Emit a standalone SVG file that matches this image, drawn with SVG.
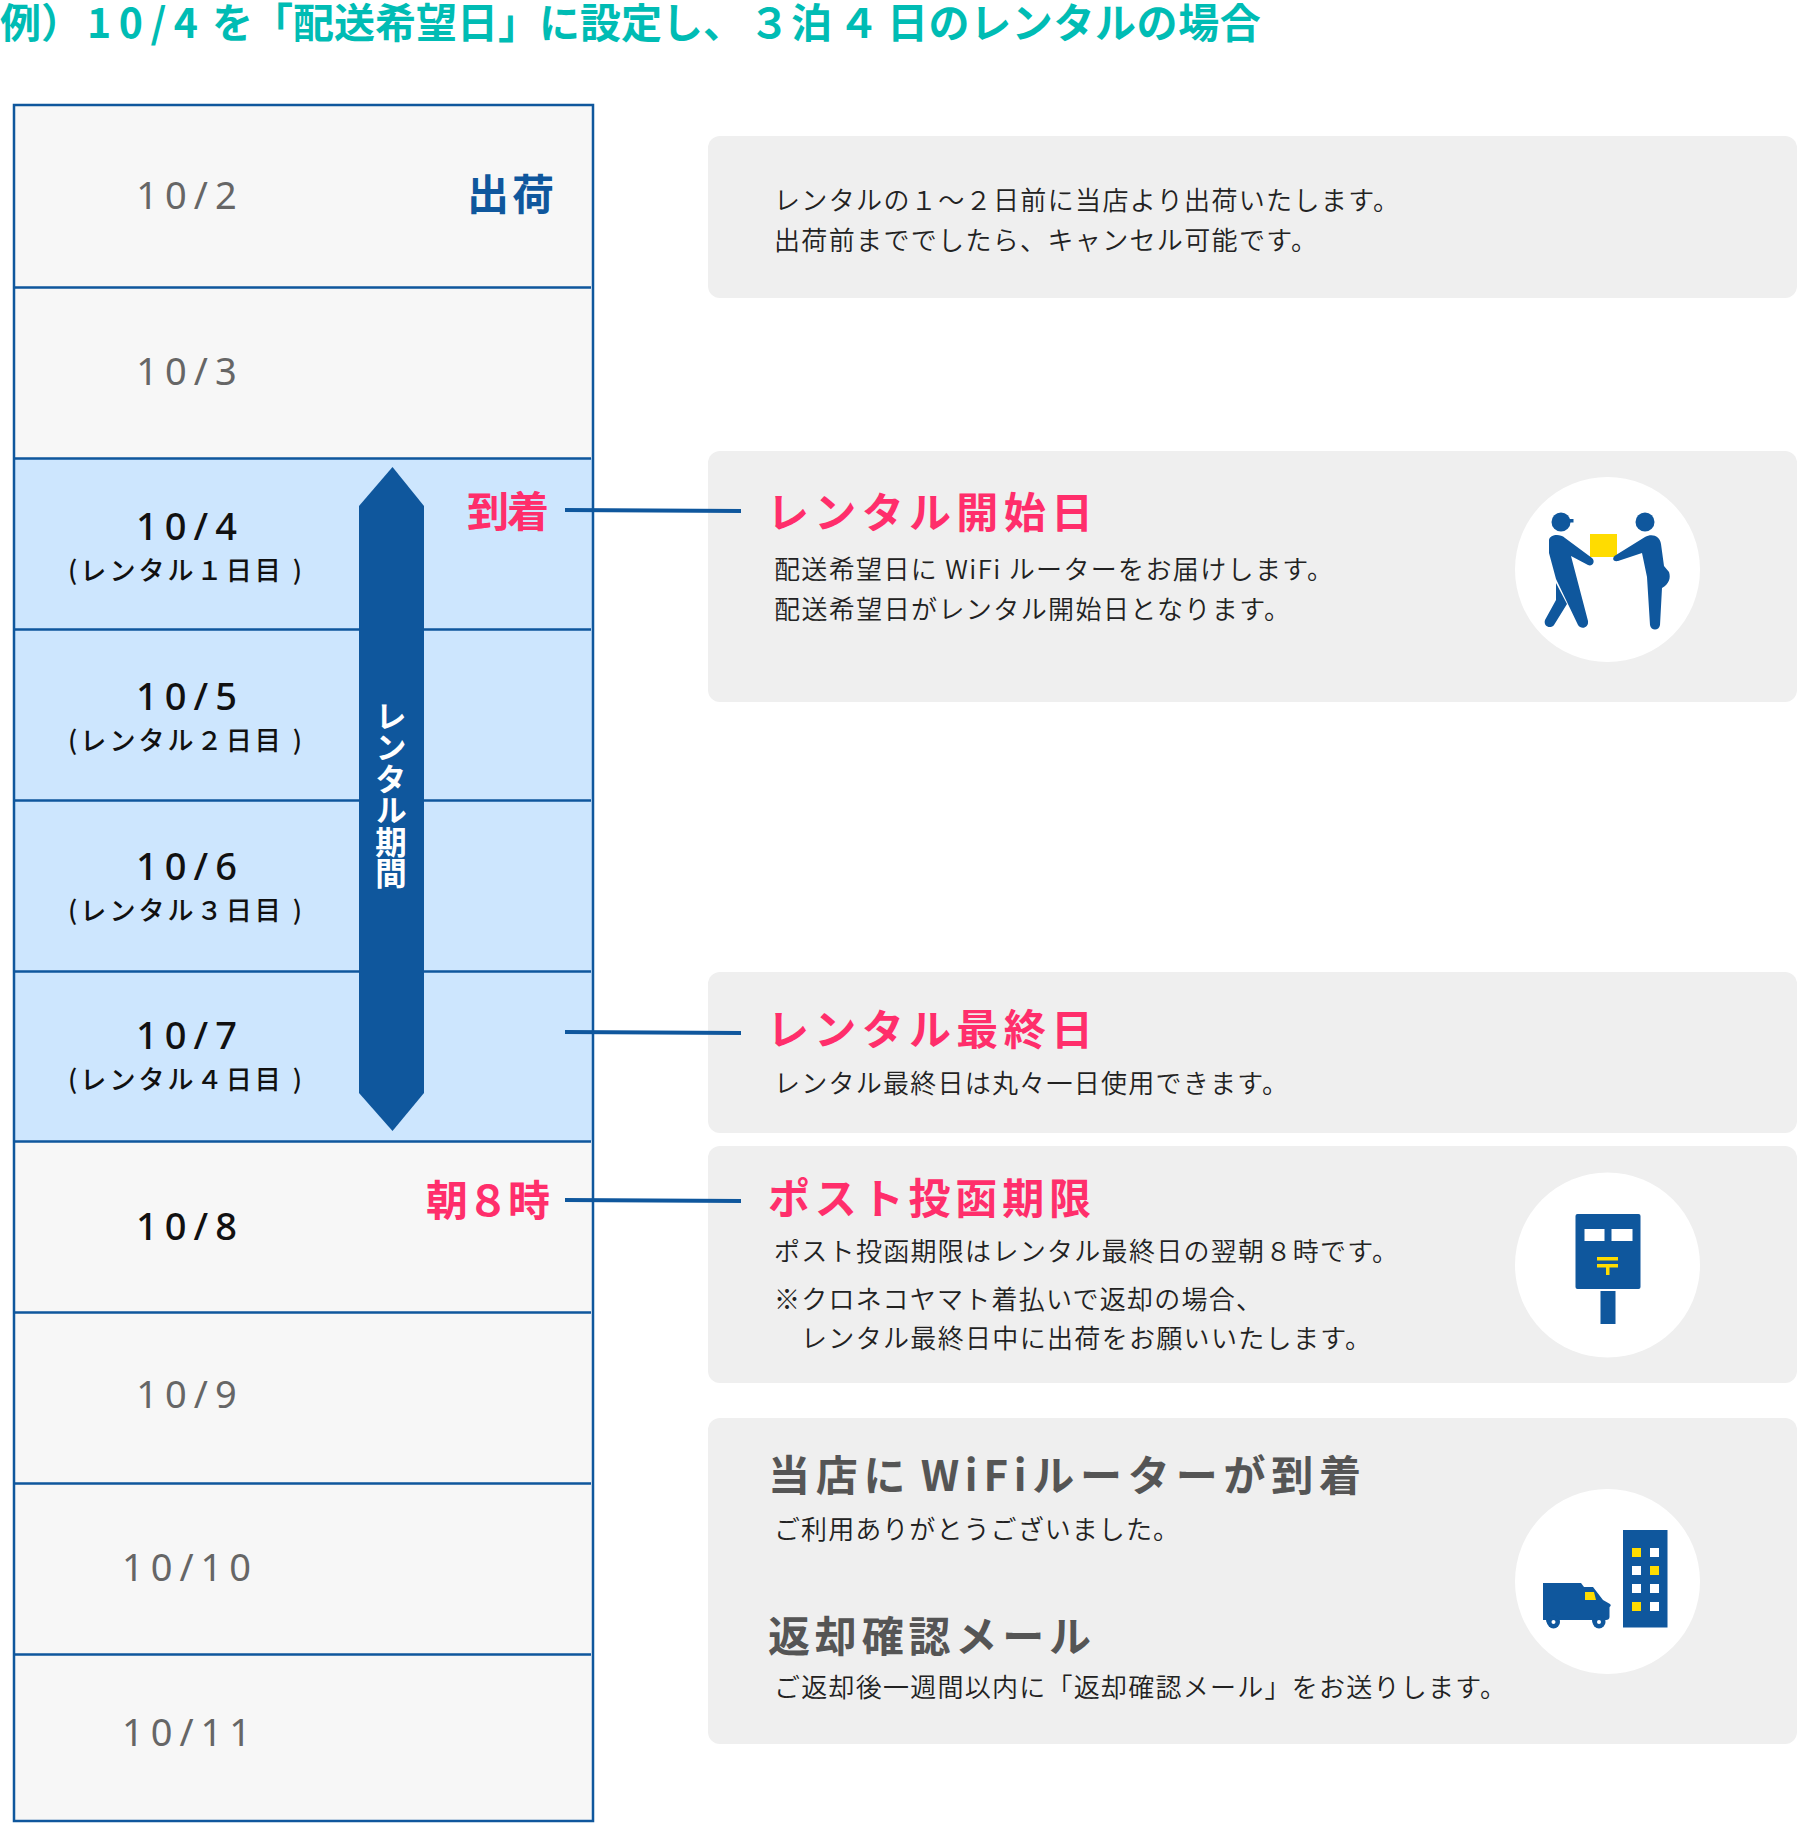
<svg xmlns="http://www.w3.org/2000/svg" width="1797" height="1823" viewBox="0 0 1797 1823">
<style>
text{font-family:"Noto Sans CJK JP","Noto Sans",sans-serif}
.box{fill:#efefef}
.line{stroke:#0f579d;stroke-width:2.500;fill:none}
.b{font-size:26px;fill:#222;font-weight:350}
.h{font-size:42px;font-weight:700;fill:#ff2e6b}
.h2{font-size:42px;font-weight:700;fill:#555}
.d{font-family:"Noto Sans",sans-serif;font-size:38px;fill:#666;text-anchor:middle;letter-spacing:7px}
.da{fill:#111;font-weight:500}
.s{font-size:26px;font-weight:500;fill:#111}
.lab{font-size:42px;font-weight:700;fill:#ff2e6b}
.ic{fill:#0f579d}.y{fill:#ffdc00}.w{fill:#fff}
.conn{stroke:#0f579d;stroke-width:4;fill:none}
</style>
<text y="38" font-size="41" font-weight="700" fill="#00bcb4"><tspan x="0">例）</tspan><tspan x="87" letter-spacing="7.500">10/4</tspan><tspan x="212">を</tspan><tspan x="252">「配送希望日」に設定し、</tspan><tspan x="749">３</tspan><tspan x="791">泊</tspan><tspan x="838">４</tspan><tspan x="887" letter-spacing="0.600">日のレンタルの場合</tspan></text>
<g id="table">
<rect x="14" y="105" width="579" height="1716" fill="#f7f7f7"/>
<rect x="14" y="458" width="579" height="683" fill="#cde6fe"/>
<path class="line" d="M14 287.500H591M14 458.500H591M14 629.500H591M14 800.500H591M14 971.500H591M14 1141.500H591M14 1312.500H591M14 1483.500H591M14 1654.500H591"/>
<rect x="14" y="105" width="579" height="1716" class="line"/>
</g>
<g id="dates">
<text class="d" x="190" y="209">10/2</text>
<text class="d" x="190" y="385">10/3</text>
<text class="d da" x="190" y="540">10/4</text>
<text class="s" x="68" y="580" textLength="234" lengthAdjust="spacing">(レンタル１日目 )</text>
<text class="d da" x="190" y="710">10/5</text>
<text class="s" x="68" y="750" textLength="234" lengthAdjust="spacing">(レンタル２日目 )</text>
<text class="d da" x="190" y="880">10/6</text>
<text class="s" x="68" y="920" textLength="234" lengthAdjust="spacing">(レンタル３日目 )</text>
<text class="d da" x="190" y="1049">10/7</text>
<text class="s" x="68" y="1089" textLength="234" lengthAdjust="spacing">(レンタル４日目 )</text>
<text class="d da" x="190" y="1240">10/8</text>
<text class="d" x="190" y="1408">10/9</text>
<text class="d" x="190" y="1581">10/10</text>
<text class="d" x="190" y="1746">10/11</text>
</g>
<g id="period">
<path class="ic" d="M392.500 467L424 506V1093L392.500 1131L359 1093V506Z"/>
<text x="391" y="700" font-size="31.500" font-weight="700" fill="#fff" style="writing-mode:vertical-rl;text-anchor:start">レンタル期間</text>
</g>
<g id="labels">
<text class="lab" x="467" y="210" style="fill:#0f579d" textLength="87" lengthAdjust="spacing">出荷</text>
<text class="lab" x="467" y="527" textLength="82" lengthAdjust="spacing">到着</text>
<text class="lab" x="426" y="1216" textLength="124" lengthAdjust="spacing">朝８時</text>
</g>
<g id="node-ship">
<rect class="box" x="708" y="136" width="1089" height="162" rx="12"/>
<text class="b" x="774" y="210" textLength="625" lengthAdjust="spacing">レンタルの１〜２日前に当店より出荷いたします。</text>
<text class="b" x="774" y="250" textLength="543" lengthAdjust="spacing">出荷前まででしたら、キャンセル可能です。</text>
</g>
<g id="node-start">
<rect class="box" x="708" y="451" width="1089" height="251" rx="12"/>
<text class="h" x="767" y="528" textLength="326" lengthAdjust="spacing">レンタル開始日</text>
<text class="b" x="774" y="579" textLength="559" lengthAdjust="spacing">配送希望日に WiFi ルーターをお届けします。</text>
<text class="b" x="774" y="619" textLength="516" lengthAdjust="spacing">配送希望日がレンタル開始日となります。</text>
<circle class="w" cx="1607.500" cy="569.500" r="92.500"/>
<rect class="y" x="1590" y="534" width="27" height="23"/>
<circle class="ic" cx="1561" cy="522" r="9.500"/><path class="ic" d="M1566 519h7.500v3.500h-7.500z"/>
<path class="ic" d="M1549 540C1550 535 1559 533 1565 538L1592 558C1596 562 1592 567 1588 565L1571 556L1588 621C1589 628 1581 630 1578 625L1556 579L1549 553Z"/>
<path class="ic" d="M1556 583L1556 600L1545 620C1543 627 1551 629 1554 625L1567 604Z"/>
<circle class="ic" cx="1645" cy="522" r="9.500"/>
<path class="ic" d="M1616 555L1645 537C1652 533 1660 536 1661 544L1664 566L1669 572C1671 578 1669 584 1662 588L1660 625C1659 631 1651 631 1650 625L1647 577L1642 553L1618 561C1612 562 1612 557 1616 555Z"/>
</g>
<g id="node-last">
<rect class="box" x="708" y="972" width="1089" height="161" rx="12"/>
<text class="h" x="767" y="1045" textLength="326" lengthAdjust="spacing">レンタル最終日</text>
<text class="b" x="774" y="1093" textLength="514" lengthAdjust="spacing">レンタル最終日は丸々一日使用できます。</text>
</g>
<g id="node-post">
<rect class="box" x="708" y="1146" width="1089" height="237" rx="12"/>
<text class="h" x="768" y="1214" textLength="323" lengthAdjust="spacing">ポスト投函期限</text>
<text class="b" x="774" y="1261" textLength="624" lengthAdjust="spacing">ポスト投函期限はレンタル最終日の翌朝８時です。</text>
<text class="b" x="774" y="1309" textLength="488" lengthAdjust="spacing">※クロネコヤマト着払いで返却の場合、</text>
<text class="b" x="801" y="1348" textLength="570" lengthAdjust="spacing">レンタル最終日中に出荷をお願いいたします。</text>
<circle class="w" cx="1607.500" cy="1265" r="92.500"/>
<rect class="ic" x="1575.500" y="1214" width="65" height="75" rx="2"/>
<rect class="ic" x="1600.500" y="1291" width="15" height="33"/>
<rect class="w" x="1584.500" y="1229" width="20" height="12"/>
<rect class="w" x="1611.500" y="1229" width="21" height="12"/>
<path class="y" d="M1597 1257h21v3.500h-21zM1597 1264h21v3.500h-21zM1606 1267h3.500v8h-3.500z"/>
</g>
<g id="node-return">
<rect class="box" x="708" y="1418" width="1089" height="326" rx="12"/>
<text class="h2" x="768" y="1491" textLength="593" lengthAdjust="spacing" style="word-spacing:-6px">当店に WiFiルーターが到着</text>
<text class="b" x="774" y="1539" textLength="405" lengthAdjust="spacing">ご利用ありがとうございました。</text>
<text class="h2" x="768" y="1652" textLength="323" lengthAdjust="spacing">返却確認メール</text>
<text class="b" x="774" y="1697" textLength="732" lengthAdjust="spacing">ご返却後一週間以内に「返却確認メール」をお送りします。</text>
<circle class="w" cx="1607.500" cy="1581.500" r="92.500"/>
<rect class="ic" x="1623" y="1530" width="44.500" height="97.500"/>
<path class="w" d="M1632 1548h9v9h-9zM1632 1566h9v9h-9zM1650 1548h9v9h-9zM1650 1584h9v9h-9zM1632 1584h9v9h-9zM1650 1602h9v9h-9z"/>
<path class="y" d="M1632 1548h9v9h-9zM1650 1566h9v9h-9zM1632 1602h9v9h-9z"/>
<path class="ic" d="M1543 1583H1581L1584 1587H1593L1603 1600L1610 1604C1612 1606 1609.500 1606 1609.500 1608V1617C1609.500 1619 1608 1620 1606 1620H1605A6.500 6.500 0 0 1 1592 1620H1559A6.500 6.500 0 0 1 1546 1620H1543Z"/>
<circle class="ic" cx="1553.500" cy="1622" r="6.500"/><circle class="ic" cx="1599" cy="1622" r="6.500"/>
<circle class="w" cx="1553.500" cy="1622" r="2"/><circle class="w" cx="1599" cy="1622" r="2"/>
<path class="y" d="M1585 1592H1594L1596 1600H1585Z"/>
</g>
<g id="connectors">
<path class="conn" d="M565 510L741 511"/>
<path class="conn" d="M565 1032L741 1033"/>
<path class="conn" d="M565 1200L741 1201"/>
</g>
</svg>
